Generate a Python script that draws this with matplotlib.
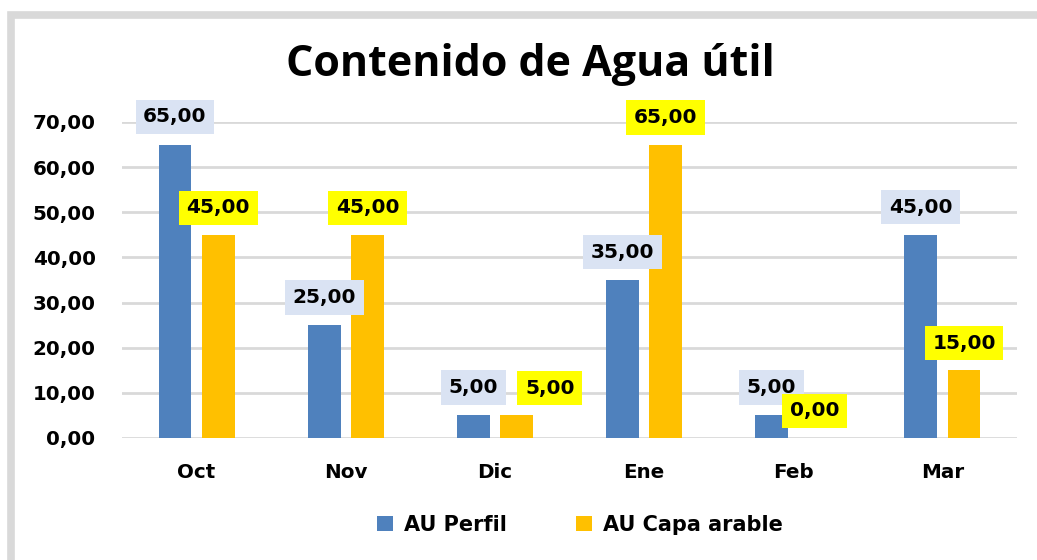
import numpy as np
import matplotlib
matplotlib.use('Agg')
import matplotlib.pyplot as plt
from matplotlib.patches import Rectangle

months = ['Oct', 'Nov', 'Dic', 'Ene', 'Feb', 'Mar']
au_perfil = [65, 25, 5, 35, 5, 45]
au_capa = [45, 45, 5, 65, 0, 15]
yticks = [0, 10, 20, 30, 40, 50, 60, 70]


def fmt(v):
    return '{:.2f}'.format(v).replace('.', ',')


fig = plt.figure(figsize=(10.37, 5.6), dpi=100)
# outer grey frame like the excel chart area
fig.patches.append(Rectangle((11 / 1037, -0.1), 1.2, 0.1 + (560 - 15) / 560,
                             transform=fig.transFigure, fill=False,
                             edgecolor='#d9d9d9', linewidth=5.5))

ax = fig.add_axes([122 / 1037, (560 - 438) / 560, 895 / 1037, 316 / 560])
x = np.arange(len(months))
w = 0.22
off = 0.145
ax.bar(x - off, au_perfil, w, color='#4f81bd', label='AU Perfil', zorder=3)
ax.bar(x + off, au_capa, w, color='#ffc000', label='AU Capa arable', zorder=3)

for i in range(len(months)):
    ax.annotate(fmt(au_perfil[i]), (x[i] - off, au_perfil[i]), xytext=(0, 20),
                textcoords='offset points', ha='center', va='center',
                fontsize=14.5, fontweight='bold', family='DejaVu Sans', zorder=4,
                bbox=dict(boxstyle='square,pad=0.38', fc='#dae3f3', ec='none'))
    # excel pushed the label aside when both labels sit at the same height
    dx = 24 if au_perfil[i] == au_capa[i] else 0
    ax.annotate(fmt(au_capa[i]), (x[i] + off, au_capa[i]), xytext=(dx, 19.5),
                textcoords='offset points', ha='center', va='center',
                fontsize=14.5, fontweight='bold', family='DejaVu Sans', zorder=5,
                bbox=dict(boxstyle='square,pad=0.38', fc='#ffff00', ec='none'))

ax.set_xlim(-0.5, len(months) - 0.5)
ax.set_ylim(0, 70)
ax.set_yticks(yticks)
ax.set_yticklabels([fmt(v) for v in yticks], fontsize=14.3, fontweight='bold')
ax.set_xticks(x)
ax.set_xticklabels(months, fontsize=14.3, fontweight='bold')
ax.tick_params(axis='y', length=0, pad=19)
ax.tick_params(axis='x', length=0, pad=18)
ax.grid(axis='y', color='#d9d9d9', linewidth=2, zorder=0)
for s in ax.spines.values():
    s.set_visible(False)

fig.text(530 / 1037, 1 - 64 / 560, 'Contenido de Agua útil', ha='center', va='center',
         fontsize=31, fontweight='bold', family='Open Sans')

fig.legend(loc='center', bbox_to_anchor=(580 / 1037, 1 - 525 / 560), ncol=2,
           frameon=False, prop={'size': 15, 'weight': 'bold'},
           handlelength=0.75, handleheight=0.75, columnspacing=3.3, handletextpad=0.55)

fig.savefig('out.png', dpi=100)
